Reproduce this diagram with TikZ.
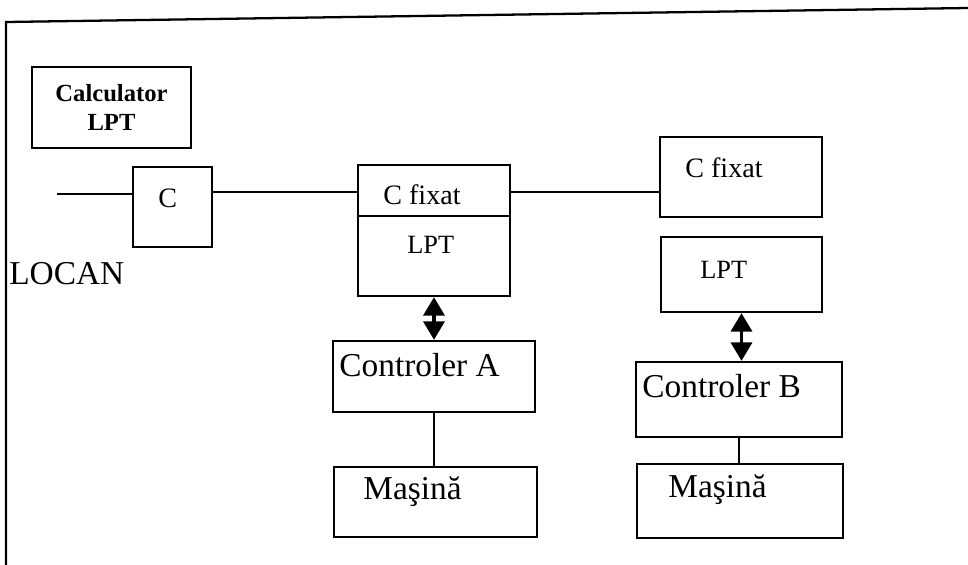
\documentclass[tikz,border=0pt]{standalone}
\usepackage{fontspec}
\setmainfont{Liberation Serif}
\usepackage{tikz}
\usetikzlibrary{arrows.meta}

\begin{document}
\begin{tikzpicture}[x=0.02cm,y=-0.02cm,
    box/.style={draw, line width=1.3pt, inner sep=0pt},
    small/.style={inner sep=0pt, anchor=base west, font=\fontsize{15}{17}\selectfont},
    big/.style={inner sep=0pt, anchor=base west, font=\fontsize{19}{21}\selectfont},
    link/.style={line width=1.3pt},
    dual/.style={line width=2pt, {Triangle[width=0.42cm,length=0.37cm]}-{Triangle[width=0.42cm,length=0.37cm]}}]
                \useasboundingbox (0,0) rectangle (968,565);
                % frame
                \draw[line width=1.3pt] (6,565)--(6,22)--(968,8);
                % boxes
                \node[box, minimum width=3.18cm, minimum height=1.62cm, align=center, font=\bfseries\fontsize{14}{16}\selectfont] (calc) at (111.5,107.5) {Calculator\\LPT};
                \node[box, minimum width=1.58cm, minimum height=1.6cm] (cbox) at (172.5,207) {};
                \node[box, minimum width=3.04cm, minimum height=2.62cm] (fixA) at (434,230.5) {};
                \node[box, minimum width=3.24cm, minimum height=1.6cm] (fixB) at (741,177) {};
                \node[box, minimum width=3.22cm, minimum height=1.5cm] (lptB) at (741.5,274.5) {};
                \node[box, minimum width=4.04cm, minimum height=1.42cm] (ctrlA) at (434,376.5) {};
                \node[box, minimum width=4.06cm, minimum height=1.4cm] (masA) at (435.5,502) {};
                \node[box, minimum width=4.12cm, minimum height=1.5cm] (ctrlB) at (739,399.5) {};
                \node[box, minimum width=4.12cm, minimum height=1.48cm] (masB) at (740,501) {};
                \coordinate (split) at (434,216);
                \draw[link] (split -| fixA.west)--(split -| fixA.east);
                % texts
                \node[small, font=\fontsize{16}{18}\selectfont] (ctxt) at (158,207) {C};
                \node[small, font=\fontsize{16}{18}\selectfont] (fixAtxt) at (383,204) {C fixat};
                \node[small] (lptAtxt) at (407,253) {LPT};
                \node[big] (locan) at (9,284) {LOCAN};
                \node[small, font=\fontsize{16}{18}\selectfont] (fixBtxt) at (685,177) {C fixat};
                \node[small] (lptBtxt) at (700,278) {LPT};
                \node[big] (ctrlAtxt) at (339,376) {Controler A};
                \node[big] (masAtxt) at (363,499) {Maşină};
                \node[big] (ctrlBtxt) at (642,397) {Controler B};
                \node[big] (masBtxt) at (668,497) {Maşină};
                % connectors
                \coordinate (lan) at (57,194);
                \coordinate (bus) at (0,192);
                \draw[link] (lan)--(lan -| cbox.west);
                \draw[link] (bus -| cbox.east)--(bus -| fixA.west);
                \draw[link] (bus -| fixA.east)--(bus -| fixB.west);
                \draw[dual] (fixA.south)--(ctrlA.north);
                \draw[dual] (lptB.south)--(lptB.south |- ctrlB.north);
                \draw[link] (ctrlA.south)--(ctrlA.south |- masA.north);
                \draw[link] (ctrlB.south)--(ctrlB.south |- masB.north);
            \end{tikzpicture}
\end{document}
